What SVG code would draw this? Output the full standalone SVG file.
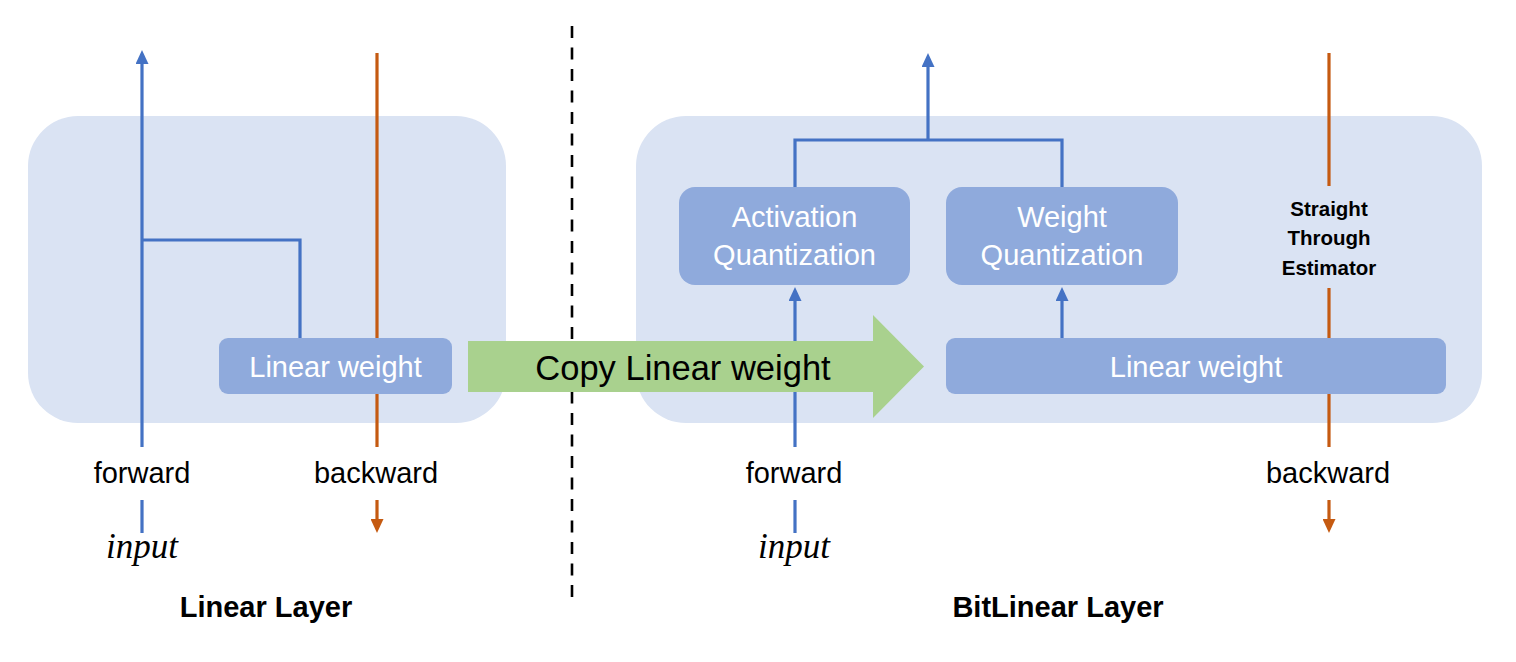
<svg xmlns="http://www.w3.org/2000/svg" width="1516" height="662" viewBox="0 0 1516 662">
<defs>
<style>
.container{fill:#dae3f3;}
.box{fill:#8faadc;}
.boxtext{font-family:"Liberation Sans",Arial,sans-serif;font-size:29px;fill:#ffffff;text-anchor:middle;}
.label{font-family:"Liberation Sans",Arial,sans-serif;font-size:29px;fill:#000000;text-anchor:middle;}
.title{font-family:"Liberation Sans",Arial,sans-serif;font-size:29px;font-weight:bold;fill:#000000;text-anchor:middle;}
.ste{font-family:"Liberation Sans",Arial,sans-serif;font-size:20.5px;font-weight:bold;fill:#000000;text-anchor:middle;}
.math{font-family:"Liberation Serif","Times New Roman",serif;font-size:35px;font-style:italic;fill:#000000;text-anchor:middle;}
.fwd{fill:none;stroke:#4472c4;stroke-width:3.2;}
.bwd{fill:none;stroke:#c55a11;stroke-width:3.2;}
</style>
<marker id="ahBlue" markerUnits="userSpaceOnUse" markerWidth="14" markerHeight="13" viewBox="0 0 14 13" refX="4" refY="6.5" orient="auto">
<path d="M0,0 L14,6.5 L0,13 z" fill="#4472c4"/>
</marker>
<marker id="ahOrange" markerUnits="userSpaceOnUse" markerWidth="14" markerHeight="13" viewBox="0 0 14 13" refX="4" refY="6.5" orient="auto">
<path d="M0,0 L14,6.5 L0,13 z" fill="#c55a11"/>
</marker>
</defs>

<g id="linear-layer-container">
<rect class="container" x="28" y="116" width="478" height="307" rx="50" ry="50"/>
</g>
<g id="bitlinear-layer-container">
<rect class="container" x="636" y="116" width="846" height="307" rx="50" ry="50"/>
</g>

<g id="divider">
<line x1="572" y1="26" x2="572" y2="598" stroke="#000000" stroke-width="2.6" stroke-dasharray="12 9.5"/>
</g>

<g id="connectors">
<!-- Linear layer forward -->
<path class="fwd" d="M142,447 L142,60" marker-end="url(#ahBlue)"/>
<path class="fwd" d="M142,240 L300,240 L300,338"/>
<path class="fwd" d="M142,500 L142,533"/>
<!-- Linear layer backward -->
<path class="bwd" d="M377,53 L377,447"/>
<path class="bwd" d="M377,500 L377,523" marker-end="url(#ahOrange)"/>
<!-- BitLinear forward -->
<path class="fwd" d="M795,447 L795,297" marker-end="url(#ahBlue)"/>
<path class="fwd" d="M795,500 L795,533"/>
<path class="fwd" d="M1062,338 L1062,297" marker-end="url(#ahBlue)"/>
<path class="fwd" d="M795,187 L795,140 L1062,140 L1062,187"/>
<path class="fwd" d="M928,140 L928,63" marker-end="url(#ahBlue)"/>
<!-- BitLinear backward -->
<path class="bwd" d="M1329,53 L1329,186"/>
<path class="bwd" d="M1329,288 L1329,447"/>
<path class="bwd" d="M1329,500 L1329,523" marker-end="url(#ahOrange)"/>
</g>

<g id="linear-weight-left">
<rect class="box" x="219" y="338" width="233" height="56" rx="9" ry="9"/>
<text class="boxtext" x="335.5" y="377">Linear weight</text>
</g>

<g id="copy-arrow">
<polygon points="468,341 873,341 873,315 924,366.5 873,418 873,392 468,392" fill="#a9d18e"/>
<text class="label" x="683" y="380" style="font-size:34.5px">Copy Linear weight</text>
</g>

<g id="activation-quantization">
<rect class="box" x="679" y="187" width="231" height="98" rx="16" ry="16"/>
<text class="boxtext" x="794.5" y="227">Activation</text>
<text class="boxtext" x="794.5" y="265">Quantization</text>
</g>

<g id="weight-quantization">
<rect class="box" x="946" y="187" width="232" height="98" rx="16" ry="16"/>
<text class="boxtext" x="1062" y="227">Weight</text>
<text class="boxtext" x="1062" y="265">Quantization</text>
</g>

<g id="linear-weight-right">
<rect class="box" x="946" y="338" width="500" height="56" rx="9" ry="9"/>
<text class="boxtext" x="1196" y="377">Linear weight</text>
</g>

<g id="ste">
<text class="ste" x="1329" y="216">Straight</text>
<text class="ste" x="1329" y="245">Through</text>
<text class="ste" x="1329" y="275">Estimator</text>
</g>

<g id="labels-left">
<text class="label" x="142" y="483">forward</text>
<text class="label" x="376" y="483">backward</text>
<text class="math" x="142" y="558">input</text>
<text class="title" x="266" y="617">Linear Layer</text>
</g>

<g id="labels-right">
<text class="label" x="794" y="483">forward</text>
<text class="label" x="1328" y="483">backward</text>
<text class="math" x="794" y="558">input</text>
<text class="title" x="1058" y="617">BitLinear Layer</text>
</g>
</svg>
